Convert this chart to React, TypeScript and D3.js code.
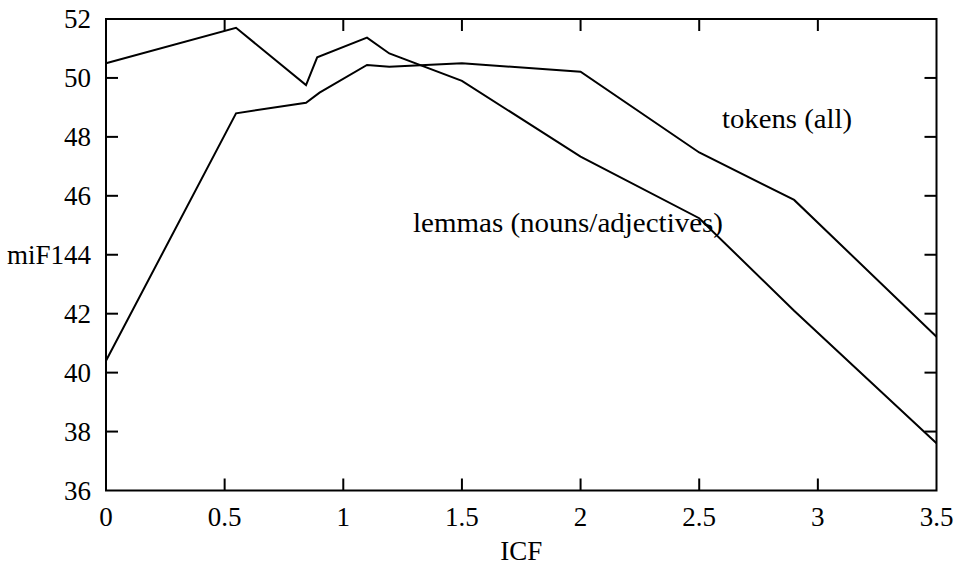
import React from "react";
import * as d3 from "d3";

const lemmasX = [0, 0.548, 0.843, 0.89, 1.1, 1.194, 1.5, 2.0, 2.5, 2.9, 3.5];
const lemmasY = [50.5, 51.7, 49.76, 50.7, 51.37, 50.83, 49.9, 47.33, 45.24, 42.1, 37.6];
const tokensX = [0, 0.548, 0.843, 0.9, 1.1, 1.194, 1.5, 2.0, 2.5, 2.9, 3.5];
const tokensY = [40.4, 48.8, 49.16, 49.5, 50.44, 50.38, 50.5, 50.21, 47.47, 45.86, 41.22];
const xTicks = [0, 0.5, 1, 1.5, 2, 2.5, 3, 3.5];
const xTickLabels = ["0", "0.5", "1", "1.5", "2", "2.5", "3", "3.5"];
const yTicks = [36, 38, 40, 42, 44, 46, 48, 50, 52];
const yTickLabels = ["36", "38", "40", "42", "44", "46", "48", "50", "52"];

const W = 956;
const H = 569;
const L = 106;
const R = 936.5;
const T = 19;
const B = 490.5;

export default function App() {
  const x = d3.scaleLinear().domain([0, 3.5]).range([L, R]);
  const y = d3.scaleLinear().domain([36, 52]).range([B, T]);
  const line = d3
    .line<[number, number]>()
    .x((d) => x(d[0]))
    .y((d) => y(d[1]));
  const lem: [number, number][] = lemmasX.map((v, i) => [v, lemmasY[i]]);
  const tok: [number, number][] = tokensX.map((v, i) => [v, tokensY[i]]);
  const tl = 12;
  const ts = { fontFamily: '"Liberation Serif"' };
  const fs = 27;
  return (
    <svg
      width={W}
      height={H}
      style={{ position: "absolute", left: 0, top: 0, background: "#fff" }}
    >
      <rect x={0} y={0} width={W} height={H} fill="#fff" />
      <g stroke="#000" strokeWidth={2}>
        {xTicks.slice(1, -1).map((t) => (
          <g key={"xt" + t}>
            <line x1={x(t)} x2={x(t)} y1={B} y2={B - tl} />
            <line x1={x(t)} x2={x(t)} y1={T} y2={T + tl} />
          </g>
        ))}
        {yTicks.slice(1, -1).map((t) => (
          <g key={"yt" + t}>
            <line x1={L} x2={L + tl} y1={y(t)} y2={y(t)} />
            <line x1={R} x2={R - tl} y1={y(t)} y2={y(t)} />
          </g>
        ))}
      </g>
      <path d={line(lem) || ""} fill="none" stroke="#000" strokeWidth={2} strokeLinejoin="miter" />
      <path d={line(tok) || ""} fill="none" stroke="#000" strokeWidth={2} strokeLinejoin="miter" />
      <rect x={L} y={T} width={R - L} height={B - T} fill="none" stroke="#000" strokeWidth={2} />
      <g fill="#000">
        {xTicks.map((t, i) => (
          <text key={"xl" + t} x={x(t)} y={526} fontSize={fs} textAnchor="middle" style={ts}>
            {xTickLabels[i]}
          </text>
        ))}
        {yTicks.map((t, i) => (
          <text key={"yl" + t} x={91} y={y(t) + 9} fontSize={fs} textAnchor="end" style={ts}>
            {yTickLabels[i]}
          </text>
        ))}
        <text x={91 - fs} y={y(44) + 9} fontSize={fs} textAnchor="end" style={ts}>miF1</text>
        <text x={(L + R) / 2} y={560} fontSize={fs} textAnchor="middle" style={ts}>ICF</text>
        <text x={413} y={232} fontSize={fs} textAnchor="start" style={ts} textLength={310} lengthAdjust="spacingAndGlyphs">
          lemmas (nouns/adjectives)
        </text>
        <text x={722} y={128} fontSize={fs} textAnchor="start" style={ts} textLength={130} lengthAdjust="spacingAndGlyphs">
          tokens (all)
        </text>
      </g>
    </svg>
  );
}
